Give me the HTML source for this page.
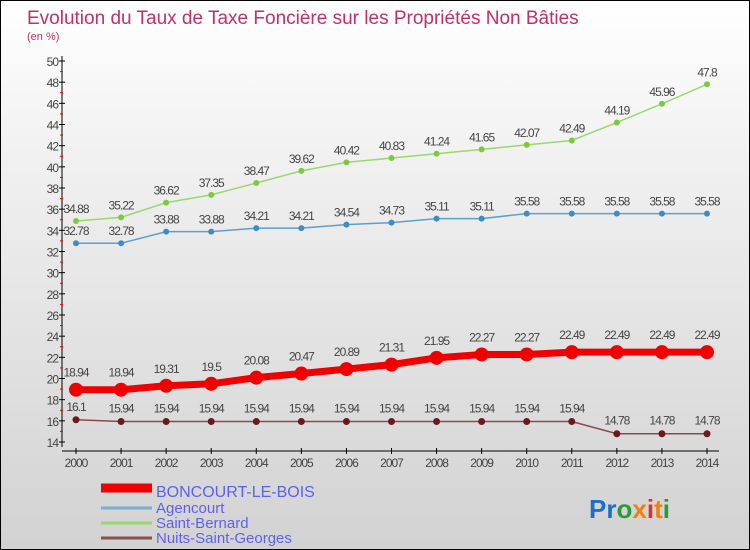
<!DOCTYPE html>
<html><head><meta charset="utf-8"><style>
body{margin:0}
#wrap{width:748px;height:548px;border:1px solid #000;background:linear-gradient(#ffffff,#f0f0f0 30%,#d2d2d2);position:relative;overflow:hidden;font-family:"Liberation Sans",sans-serif}
svg{position:absolute;left:0;top:0}
</style></head><body>
<div id="wrap">
<svg id="c" width="750" height="550">
<text x="26" y="23" font-size="19" fill="#c0306a">Evolution du Taux de Taxe Foncière sur les Propriétés Non Bâties</text>
<text x="26" y="39" font-size="11" fill="#c0306a">(en %)</text>
<text x="588" y="517" font-size="26" font-weight="bold"><tspan fill="#1a6fd0">Pr</tspan><tspan fill="#2a9a3a">o</tspan><tspan fill="#f08010">x</tspan><tspan fill="#e03020">i</tspan><tspan fill="#f08010">t</tspan><tspan fill="#2a9a3a">i</tspan></text>
</svg>
</div>
<script>
const years=[2000,2001,2002,2003,2004,2005,2006,2007,2008,2009,2010,2011,2012,2013,2014];
const boncourt=[18.94,18.94,19.31,19.5,20.08,20.47,20.89,21.31,21.95,22.27,22.27,22.49,22.49,22.49,22.49];
const agencourt=[32.78,32.78,33.88,33.88,34.21,34.21,34.54,34.73,35.11,35.11,35.58,35.58,35.58,35.58,35.58];
const stbernard=[34.88,35.22,36.62,37.35,38.47,39.62,40.42,40.83,41.24,41.65,42.07,42.49,44.19,45.96,47.8];
const nuits=[16.1,15.94,15.94,15.94,15.94,15.94,15.94,15.94,15.94,15.94,15.94,15.94,14.78,14.78,14.78];
const yTicks=[14,16,18,20,22,24,26,28,30,32,34,36,38,40,42,44,46,48,50];
const svg=document.getElementById('c');const NS='http://www.w3.org/2000/svg';
const X=i=>75+i*(706-75)/14;
const Y=v=>441-(v-14)*(441-60)/36;
function mk(t,a,p){const e=document.createElementNS(NS,t);for(const k in a)e.setAttribute(k,a[k]);(p||svg).appendChild(e);return e;}
let e=mk('line',{x1:61,y1:55,x2:61,y2:446,stroke:'#000'});


e=mk('line',{x1:61,y1:450,x2:718,y2:450,stroke:'#000'});


yTicks.forEach(v=>{mk('line',{x1:58,x2:64,y1:Y(v),y2:Y(v),stroke:'#000'});
if(v<50)mk('line',{x1:59,x2:62,y1:Y(v+1),y2:Y(v+1),stroke:'#e00'});
const t=mk('text',{x:57,y:Y(v)+5,'font-size':12,fill:'#444','text-anchor':'end','letter-spacing':'-1'});t.textContent=v;

});
years.forEach((y,i)=>{mk('line',{x1:X(i),x2:X(i),y1:447,y2:453,stroke:'#000'});
const t=mk('text',{x:X(i),y:466,'font-size':12,fill:'#444','text-anchor':'middle','letter-spacing':'-1'});t.textContent=y;

});
function series(d,col,dot,w,r,name,lblOff){
const g=mk('g',{});


mk('polyline',{points:d.map((v,i)=>X(i)+','+Y(v)).join(' '),fill:'none',stroke:col,'stroke-width':w},g);
d.forEach((v,i)=>{const c=mk('circle',{cx:X(i),cy:Y(v),r:r,fill:dot},g);


const t=mk('text',{x:X(i),y:Y(v)-lblOff,'font-size':12,fill:'#444','text-anchor':'middle','letter-spacing':'-1'},g);t.textContent=v;

});}
series(stbernard,'#99d96a','#7dc842',1.5,3,'saint-bernard',8);
series(agencourt,'#5aa0d0','#3d8cc4',1.5,3,'agencourt',8);
series(nuits,'#8a4a4a','#6a1a1a',1.5,3.5,'nuits-saint-georges',9);
series(boncourt,'#f00000','#f00000',7,7,'boncourt-le-bois',13);
const leg=[['BONCOURT-LE-BOIS','#f00000',9],['Agencourt','#7aaed0',3],['Saint-Bernard','#99d96a',3],['Nuits-Saint-Georges','#8a5050',3]];
leg.forEach((l,i)=>{const y=493+i*15;const g=mk('g',{});


mk('line',{x1:100,x2:151,y1:y-6+(i?5:0),y2:y-6+(i?5:0),stroke:l[1],'stroke-width':l[2]},g);
const t=mk('text',{x:155,y:y+3+(i?1:0),'font-size':i?15:16,fill:'#6060f0'},g);t.textContent=l[0];});
</script>
</body></html>
